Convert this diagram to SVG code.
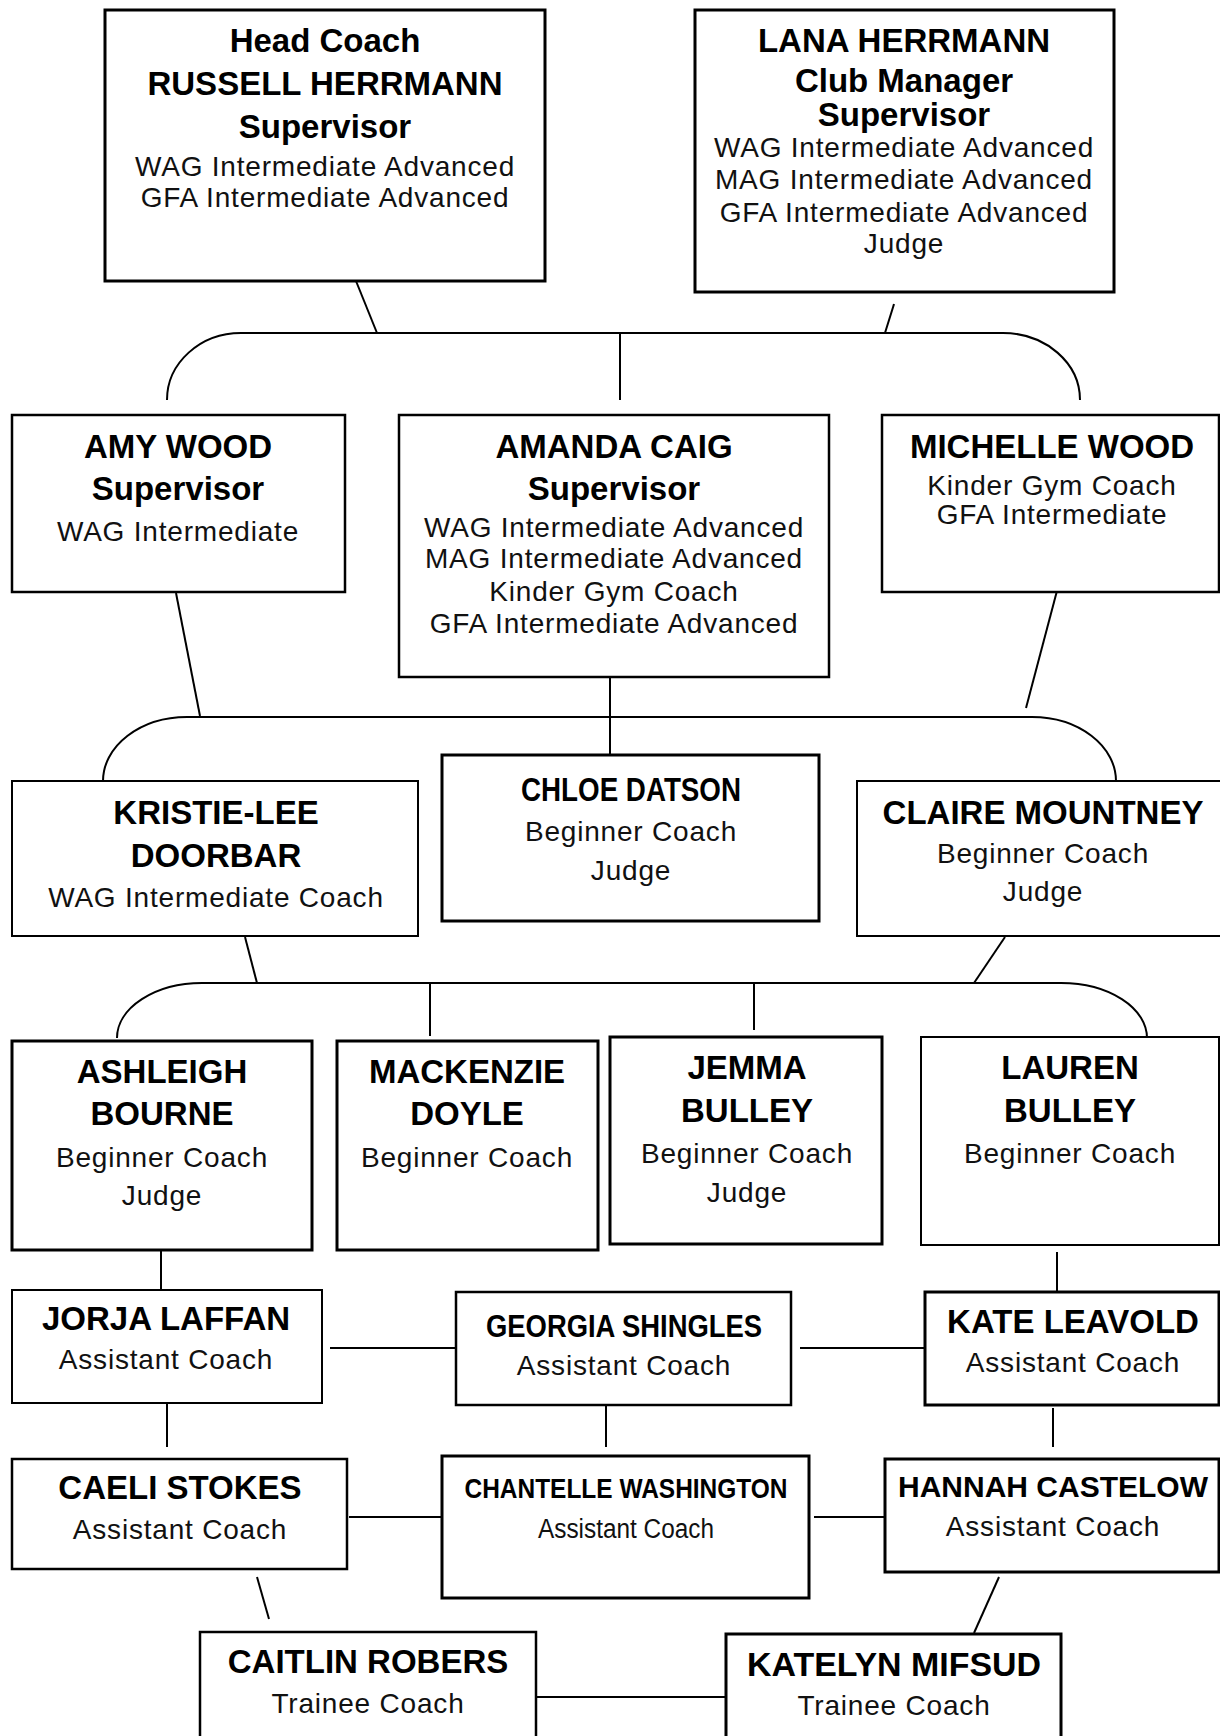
<svg xmlns="http://www.w3.org/2000/svg" width="1220" height="1736" viewBox="0 0 1220 1736">
<style>
.box{fill:#fff;stroke:#000}
.k3{stroke-width:3}
.k25{stroke-width:2.5}
.k2{stroke-width:2}
text{font-family:"Liberation Sans",Arial,sans-serif;text-anchor:middle}
.b{font-weight:bold;font-size:33px;fill:#000}
.r{font-size:28px;letter-spacing:0.8px;fill:#111}
#connectors path,#connectors line{stroke:#000;stroke-width:2;fill:none}
</style>
<rect width="1220" height="1736" fill="#fff"/>
<g id="connectors">
<line x1="356" y1="281" x2="377" y2="333"/>
<line x1="894" y1="304" x2="885" y2="333"/>
<path d="M167,400 A74,67 0 0 1 241,333 H1003 A77,67 0 0 1 1080,400"/>
<line x1="620" y1="333" x2="620" y2="400"/>
<line x1="176" y1="593" x2="200" y2="716"/>
<line x1="1058" y1="587" x2="1026" y2="708"/>
<line x1="610" y1="677" x2="610" y2="755"/>
<path d="M103,781 A84,64 0 0 1 187,717 H1032 A84,64 0 0 1 1116,781"/>
<line x1="245" y1="937" x2="257" y2="983"/>
<line x1="1005" y1="937" x2="974" y2="983"/>
<path d="M117,1038 A85,55 0 0 1 202,983 H1061 A86,55 0 0 1 1147,1038"/>
<line x1="430" y1="983" x2="430" y2="1036"/>
<line x1="754" y1="983" x2="754" y2="1030"/>
<line x1="161" y1="1250" x2="161" y2="1290"/>
<line x1="1057" y1="1252" x2="1057" y2="1292"/>
<line x1="330" y1="1348" x2="456" y2="1348"/>
<line x1="800" y1="1348" x2="925" y2="1348"/>
<line x1="167" y1="1403" x2="167" y2="1447"/>
<line x1="606" y1="1405" x2="606" y2="1447"/>
<line x1="1053" y1="1408" x2="1053" y2="1447"/>
<line x1="349" y1="1517" x2="442" y2="1517"/>
<line x1="814" y1="1517" x2="885" y2="1517"/>
<line x1="257" y1="1577" x2="269" y2="1619"/>
<line x1="999" y1="1577" x2="974" y2="1633"/>
<line x1="530" y1="1697" x2="726" y2="1697"/>
</g>
<g id="head-coach">
<rect class="box k3" x="105" y="10" width="440" height="271"/>
<text class="b" x="325" y="52">Head Coach</text>
<text class="b" x="325" y="95">RUSSELL HERRMANN</text>
<text class="b" x="325" y="138">Supervisor</text>
<text class="r" x="325" y="176">WAG Intermediate Advanced</text>
<text class="r" x="325" y="207">GFA Intermediate Advanced</text>
</g>
<g id="lana-herrmann">
<rect class="box k3" x="695" y="10" width="419" height="282"/>
<text class="b" x="904" y="52">LANA HERRMANN</text>
<text class="b" x="904" y="92">Club Manager</text>
<text class="b" x="904" y="126">Supervisor</text>
<text class="r" x="904" y="157">WAG Intermediate Advanced</text>
<text class="r" x="904" y="189">MAG Intermediate Advanced</text>
<text class="r" x="904" y="222">GFA Intermediate Advanced</text>
<text class="r" x="904" y="253">Judge</text>
</g>
<g id="amy-wood">
<rect class="box k25" x="12" y="415" width="333" height="177"/>
<text class="b" x="178" y="458">AMY WOOD</text>
<text class="b" x="178" y="500">Supervisor</text>
<text class="r" x="178" y="541">WAG Intermediate</text>
</g>
<g id="amanda-caig">
<rect class="box k25" x="399" y="415" width="430" height="262"/>
<text class="b" x="614" y="458">AMANDA CAIG</text>
<text class="b" x="614" y="500">Supervisor</text>
<text class="r" x="614" y="537">WAG Intermediate Advanced</text>
<text class="r" x="614" y="568">MAG Intermediate Advanced</text>
<text class="r" x="614" y="601">Kinder Gym Coach</text>
<text class="r" x="614" y="633">GFA Intermediate Advanced</text>
</g>
<g id="michelle-wood">
<rect class="box k25" x="882" y="415" width="337" height="177"/>
<text class="b" x="1052" y="458">MICHELLE WOOD</text>
<text class="r" x="1052" y="495">Kinder Gym Coach</text>
<text class="r" x="1052" y="524">GFA Intermediate</text>
</g>
<g id="kristie-lee-doorbar">
<rect class="box k2" x="12" y="781" width="406" height="155"/>
<text class="b" x="216" y="824">KRISTIE-LEE</text>
<text class="b" x="216" y="867">DOORBAR</text>
<text class="r" x="216" y="907">WAG Intermediate Coach</text>
</g>
<g id="chloe-datson">
<rect class="box k3" x="442" y="755" width="377" height="166"/>
<text class="b" x="631" y="801" style="font-size:34px" textLength="220" lengthAdjust="spacingAndGlyphs">CHLOE DATSON</text>
<text class="r" x="631" y="841">Beginner Coach</text>
<text class="r" x="631" y="880">Judge</text>
</g>
<g id="claire-mountney">
<rect class="box k2" x="857" y="781" width="372" height="155"/>
<text class="b" x="1043" y="824">CLAIRE MOUNTNEY</text>
<text class="r" x="1043" y="863">Beginner Coach</text>
<text class="r" x="1043" y="901">Judge</text>
</g>
<g id="ashleigh-bourne">
<rect class="box k3" x="12" y="1041" width="300" height="209"/>
<text class="b" x="162" y="1083">ASHLEIGH</text>
<text class="b" x="162" y="1125">BOURNE</text>
<text class="r" x="162" y="1167">Beginner Coach</text>
<text class="r" x="162" y="1205">Judge</text>
</g>
<g id="mackenzie-doyle">
<rect class="box k3" x="337" y="1041" width="261" height="209"/>
<text class="b" x="467" y="1083">MACKENZIE</text>
<text class="b" x="467" y="1125">DOYLE</text>
<text class="r" x="467" y="1167">Beginner Coach</text>
</g>
<g id="jemma-bulley">
<rect class="box k3" x="610" y="1037" width="272" height="207"/>
<text class="b" x="747" y="1079">JEMMA</text>
<text class="b" x="747" y="1122">BULLEY</text>
<text class="r" x="747" y="1163">Beginner Coach</text>
<text class="r" x="747" y="1202">Judge</text>
</g>
<g id="lauren-bulley">
<rect class="box k2" x="921" y="1037" width="298" height="208"/>
<text class="b" x="1070" y="1079">LAUREN</text>
<text class="b" x="1070" y="1122">BULLEY</text>
<text class="r" x="1070" y="1163">Beginner Coach</text>
</g>
<g id="jorja-laffan">
<rect class="box k2" x="12" y="1290" width="310" height="113"/>
<text class="b" x="166" y="1330">JORJA LAFFAN</text>
<text class="r" x="166" y="1369">Assistant Coach</text>
</g>
<g id="georgia-shingles">
<rect class="box k25" x="456" y="1292" width="335" height="113"/>
<text class="b" x="624" y="1337" style="font-size:32px" textLength="276" lengthAdjust="spacingAndGlyphs">GEORGIA SHINGLES</text>
<text class="r" x="624" y="1375">Assistant Coach</text>
</g>
<g id="kate-leavold">
<rect class="box k3" x="925" y="1292" width="294" height="113"/>
<text class="b" x="1073" y="1333">KATE LEAVOLD</text>
<text class="r" x="1073" y="1372">Assistant Coach</text>
</g>
<g id="caeli-stokes">
<rect class="box k25" x="12" y="1459" width="335" height="110"/>
<text class="b" x="180" y="1499">CAELI STOKES</text>
<text class="r" x="180" y="1539">Assistant Coach</text>
</g>
<g id="chantelle-washington">
<rect class="box k3" x="442" y="1456" width="367" height="142"/>
<text class="b" x="626" y="1498" style="font-size:28px" textLength="323" lengthAdjust="spacingAndGlyphs">CHANTELLE WASHINGTON</text>
<text class="r" x="626" y="1538" style="font-size:27px;letter-spacing:0" textLength="176" lengthAdjust="spacingAndGlyphs">Assistant Coach</text>
</g>
<g id="hannah-castelow">
<rect class="box k3" x="885" y="1459" width="334" height="113"/>
<text class="b" x="1053" y="1497" style="font-size:30px">HANNAH CASTELOW</text>
<text class="r" x="1053" y="1536">Assistant Coach</text>
</g>
<g id="caitlin-robers">
<rect class="box k25" x="200" y="1632" width="336" height="130"/>
<text class="b" x="368" y="1673">CAITLIN ROBERS</text>
<text class="r" x="368" y="1713">Trainee Coach</text>
</g>
<g id="katelyn-mifsud">
<rect class="box k3" x="726" y="1634" width="335" height="130"/>
<text class="b" x="894" y="1676" textLength="294" lengthAdjust="spacingAndGlyphs">KATELYN MIFSUD</text>
<text class="r" x="894" y="1715">Trainee Coach</text>
</g>
</svg>
